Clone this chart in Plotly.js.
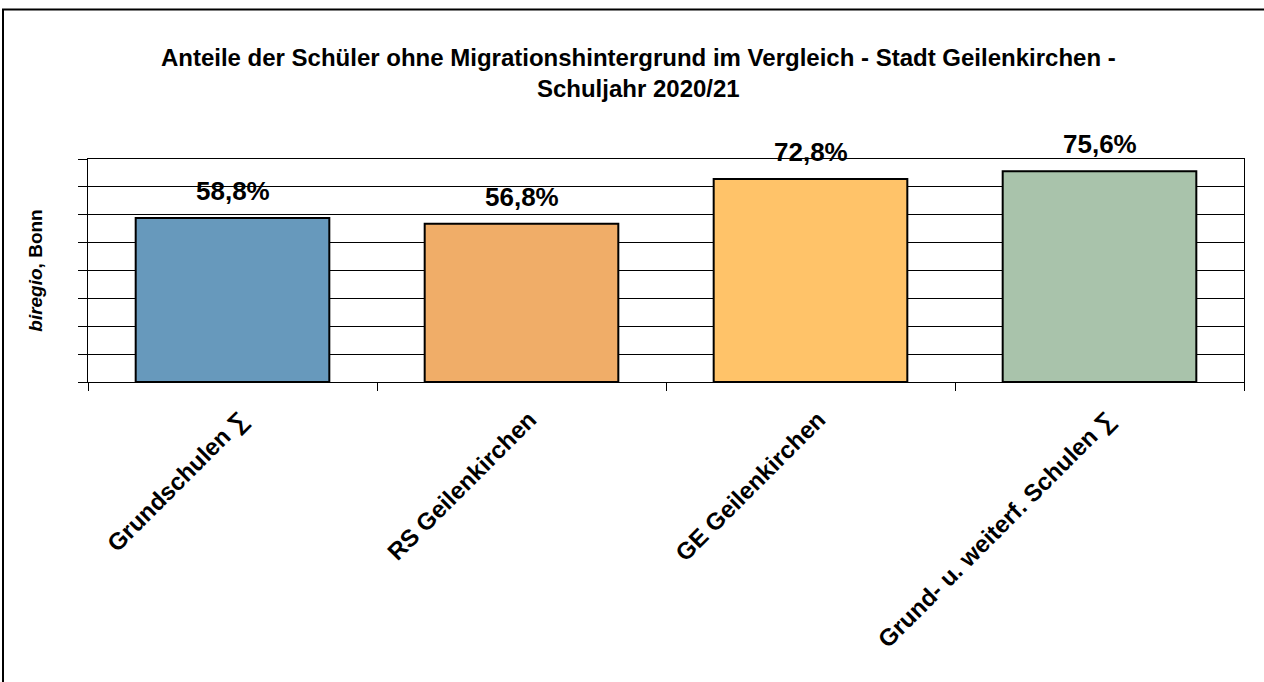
<!DOCTYPE html>
<html>
<head>
<meta charset="utf-8">
<script src="https://cdn.plot.ly/plotly-3.0.1.min.js"></script>
<style>html,body{margin:0;padding:0;background:#fff;}#chart{width:1264px;height:682px;}</style>
</head>
<body>
<div id="chart"></div>
<script>
const categories = ["Grundschulen \u2211", "RS Geilenkirchen", "GE Geilenkirchen", "Grund- u. weiterf. Schulen \u2211"];
const values = [0.588, 0.568, 0.728, 0.756];
const barColors = ["#6799BC", "#F0AD68", "#FFC369", "#A9C3AB"];
const titleText = "Anteile der Schüler ohne Migrationshintergrund im Vergleich - Stadt Geilenkirchen -<br>Schuljahr 2020/21";
const yTitle = "<i>biregio</i>, Bonn";

const FONT = "Arial, 'Liberation Sans', sans-serif";
const M = {l: 88, r: 20, t: 159, b: 300};
const W = 1264 - M.l - M.r, H = 682 - M.t - M.b;

function fmt(v) { return (v * 100).toFixed(1).replace('.', ',') + '%'; }

const trace = {
  type: 'bar',
  x: categories,
  y: values,
  marker: {color: barColors, line: {color: '#000', width: 2}},
  hoverinfo: 'none'
};

const annotations = categories.map((c, i) => ({
  x: c, y: values[i], xref: 'x', yref: 'y',
  text: '<b>' + fmt(values[i]) + '</b>',
  showarrow: false, yanchor: 'middle', yshift: 27,
  font: {family: FONT, size: 26, color: '#000'}
}));

const layout = {
  width: 1264, height: 682,
  margin: M,
  paper_bgcolor: '#fff', plot_bgcolor: '#fff',
  showlegend: false,
  bargap: 0.33,
  font: {family: FONT, color: '#000'},
  title: {
    text: '<b>' + titleText + '</b>',
    font: {family: FONT, size: 24, color: '#000'},
    x: 0.505, xref: 'container', y: 1 - 66/682, yref: 'container',
    xanchor: 'center', yanchor: 'middle'
  },
  xaxis: {
    type: 'category',
    showline: true, linecolor: '#000', linewidth: 1, mirror: true,
    ticks: 'outside', ticklen: 8, tickcolor: '#000', tickson: 'boundaries',
    tickangle: -45,
    ticklabelstandoff: 13, ticklabelshift: 8,
    tickfont: {family: FONT, size: 24, color: '#000', weight: 'bold'},
    showgrid: false
  },
  yaxis: {
    range: [0, 0.8], dtick: 0.1, tick0: 0,
    showline: true, linecolor: '#000', linewidth: 1, mirror: true,
    ticks: 'outside', ticklen: 9, tickcolor: '#000',
    showticklabels: false,
    showgrid: true, gridcolor: '#000', gridwidth: 1,
    zeroline: false,
    title: {text: '<b>' + yTitle + '</b>', font: {family: FONT, size: 19, color: '#000'}, standoff: 30}
  },
  annotations: annotations,
  shapes: [{
    type: 'rect', xref: 'paper', yref: 'paper',
    x0: (3 - M.l) / W, x1: (1290 - M.l) / W,
    y0: -(M.b + 40) / H, y1: 1 + (M.t - 9.5) / H,
    line: {color: '#000', width: 2}, fillcolor: 'rgba(0,0,0,0)', layer: 'above'
  }]
};

Plotly.newPlot('chart', [trace], layout, {displayModeBar: false, staticPlot: true});
</script>
</body>
</html>
